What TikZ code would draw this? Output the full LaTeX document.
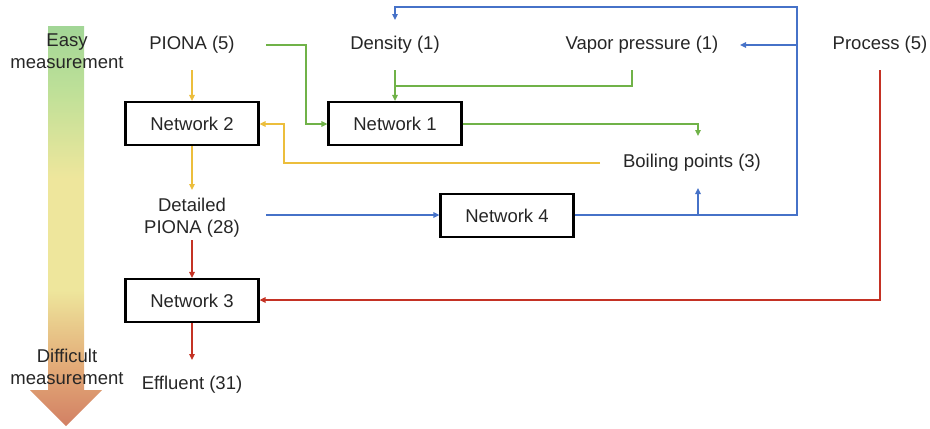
\documentclass[tikz,border=0pt]{standalone}
\usepackage{fontspec}
\setmainfont{Liberation Sans}
\usetikzlibrary{arrows.meta}

\definecolor{cgreen}{RGB}{112,178,72}
\definecolor{cyellow}{RGB}{236,190,60}
\definecolor{cblue}{RGB}{70,114,200}
\definecolor{cred}{RGB}{196,50,36}
\definecolor{gSalmon}{RGB}{210,128,100}
\definecolor{gOrange}{RGB}{226,168,118}
\definecolor{gYellow}{RGB}{238,230,156}
\definecolor{gLight}{RGB}{190,224,152}
\definecolor{gGreen}{RGB}{162,214,150}

% bottom-to-top colour ramp of the measurement arrow (path spans 25bp..75bp)
\pgfdeclareverticalshading{measgrad}{100bp}{%
  color(0bp)=(gSalmon); color(25bp)=(gSalmon); color(32bp)=(gOrange);
  color(42bp)=(gYellow); color(56bp)=(gYellow); color(67bp)=(gLight);
  color(75bp)=(gGreen); color(100bp)=(gGreen)}

\tikzset{
  lbl/.style={inner sep=0pt, font=\fontsize{18.5bp}{22bp}\selectfont, text=black!85, align=center},
  netbox/.style={draw=black, line width=2.2bp, minimum width=133bp, minimum height=43bp,
                 inner sep=0pt, font=\fontsize{18.5bp}{22bp}\selectfont, text=black!85},
  conn/.style={line width=1.8bp},
  tip/.style={-{Triangle[length=6bp,width=5.5bp]}},
}

\begin{document}
\begin{tikzpicture}[x=1bp,y=-1bp]
\useasboundingbox (0,0) rectangle (930,428);

% measurement scale arrow
\shade[shading=measgrad]
  (48,26) -- (84,26) -- (84,390) -- (102,390) -- (66,426) -- (30,390) -- (48,390) -- cycle;
\node[lbl] (easy) at (67,51) {Easy\\measurement};
\node[lbl] (hard) at (67,367) {Difficult\\measurement};

% quantities
\node[lbl] (piona)   at (192,45)  {PIONA (5)};
\node[lbl] (dens)    at (395,45)  {Density (1)};
\node[lbl] (vap)     at (642,45)  {Vapor pressure (1)};
\node[lbl] (proc)    at (880,45)  {Process (5)};
\node[lbl] (boil)    at (692,163) {Boiling points (3)};
\node[lbl] (dpiona)  at (192,218) {Detailed\\PIONA (28)};
\node[lbl] (eff)     at (192,385) {Effluent (31)};

% networks
\node[netbox] (n2) at (192,123.5) {Network 2};
\node[netbox] (n1) at (395,123.5) {Network 1};
\node[netbox] (n4) at (507,215.5) {Network 4};
\node[netbox] (n3) at (192,300.5) {Network 3};

% junction points
\coordinate (pionaB) at (192,70);
\coordinate (pionaR) at (266,45);
\coordinate (densB)  at (395,70);
\coordinate (vapB)   at (632,70);
\coordinate (boilT)  at (698,136);
\coordinate (boilB)  at (698,188);
\coordinate (boilL)  at (600,163);
\coordinate (procB)  at (880,70);
\coordinate (densT)  at (395,20);
\coordinate (vapR)   at (740,45);
\coordinate (dpT)    at (192,190);
\coordinate (dpB)    at (192,240);
\coordinate (dpR)    at (266,215);
\coordinate (effT)   at (192,360);

% yellow: PIONA -> Network 2 -> Detailed PIONA, boiling points -> Network 2
\draw[conn,cyellow,tip] (pionaB) -- (n2.north);
\draw[conn,cyellow,tip] (n2.south) -- (dpT);
\draw[conn,cyellow,tip] (boilL) -- (284,163) -- (284,124) -- (n2.east |- 0,124);

% green: inputs of Network 1 and its output
\draw[conn,cgreen,tip] (pionaR) -- (306,45) -- (306,124) -- (n1.west |- 0,124);
\draw[conn,cgreen,tip] (densB) -- (n1.north);
\draw[conn,cgreen] (vapB) -- (632,86) -- (395,86);
\draw[conn,cgreen,tip] (n1.east |- 0,124) -- (698,124) -- (boilT);

% blue: Detailed PIONA -> Network 4 -> density, vapor pressure, boiling points
\draw[conn,cblue,tip] (dpR) -- (n4.west |- dpR);
\draw[conn,cblue,tip] (n4.east |- dpR) -- (797,215) -- (797,7) -- (395,7) -- (densT);
\draw[conn,cblue,tip] (797,45) -- (vapR);
\draw[conn,cblue,tip] (698,215) -- (boilB);

% red: Detailed PIONA and process -> Network 3 -> effluent
\draw[conn,cred,tip] (dpB) -- (n3.north);
\draw[conn,cred,tip] (procB) -- (880,300) -- (n3.east |- 0,300);
\draw[conn,cred,tip] (n3.south) -- (effT);
\end{tikzpicture}
\end{document}
